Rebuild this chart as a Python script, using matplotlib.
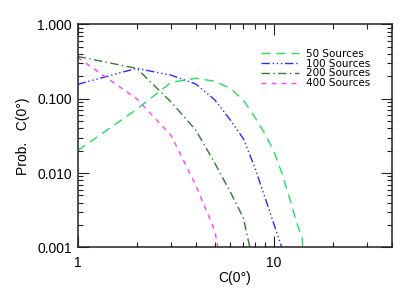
import matplotlib
matplotlib.use('Agg')
import matplotlib.pyplot as plt
from matplotlib.ticker import FixedLocator, FixedFormatter, LogLocator, NullFormatter

plt.rcParams['font.family'] = ['Liberation Sans', 'DejaVu Sans']

# separation C(0deg) and probability per number of sources
sep_50 = [1, 2, 3, 4, 5, 6, 7, 8, 9, 10, 11, 12, 13, 14, 15]
prob_50 = [0.020, 0.072, 0.166, 0.188, 0.172, 0.138, 0.096, 0.057, 0.034,
           0.020, 0.010, 0.0048, 0.0023, 0.0013, 0.00001]

sep_100 = [1, 2, 3, 4, 5, 6, 7, 8, 9, 10, 11, 12]
prob_100 = [0.156, 0.256, 0.207, 0.158, 0.097, 0.052, 0.029, 0.012, 0.0048,
            0.0021, 0.001, 0.00001]

sep_200 = [1, 2, 3, 4, 5, 6, 7, 8]
prob_200 = [0.37, 0.256, 0.09, 0.038, 0.0137, 0.0056, 0.0025, 0.0005]

sep_400 = [1, 2, 3, 4, 5, 6]
prob_400 = [0.36, 0.10, 0.032, 0.0069, 0.0017, 0.00014]

labels = ['50 Sources', '100 Sources', '200 Sources', '400 Sources']
y_ticks = [0.001, 0.01, 0.1, 1.0]
y_ticklabels = ['0.001', '0.010', '0.100', '1.000']
x_ticks = [1, 10]
x_ticklabels = ['1', '10']

STYLES = [
    ('#22e05a', (0, (6.5, 4.3))),
    ('#2b2bff', (0, (6, 2, 1, 2, 1, 2, 1, 2))),
    ('#2e7d2e', (0, (6, 2.5, 1, 2.5))),
    ('#ff40ff', (0, (3.6, 3.6))),
]

fig = plt.figure(figsize=(4.15, 2.97), dpi=100)
ax = fig.add_axes([0.187, 0.167, 0.757, 0.751])

series = [(sep_50, prob_50), (sep_100, prob_100), (sep_200, prob_200), (sep_400, prob_400)]
for (x, y), (color, ls), label in zip(series, STYLES, labels):
    ax.plot(x, y, color=color, linestyle=ls, linewidth=1.0, label=label)

ax.set_xscale('log')
ax.set_yscale('log')
ax.set_xlim(1, 40)
ax.set_ylim(0.001, 1.0)

ax.xaxis.set_major_locator(FixedLocator(x_ticks))
ax.xaxis.set_major_formatter(FixedFormatter(x_ticklabels))
ax.xaxis.set_minor_locator(LogLocator(base=10, subs=range(2, 10)))
ax.xaxis.set_minor_formatter(NullFormatter())
ax.yaxis.set_major_locator(FixedLocator(y_ticks))
ax.yaxis.set_major_formatter(FixedFormatter(y_ticklabels))
ax.yaxis.set_minor_locator(LogLocator(base=10, subs=range(2, 10)))
ax.yaxis.set_minor_formatter(NullFormatter())

ax.tick_params(which='both', direction='in', top=True, right=True, width=0.8, color='#222222')
ax.tick_params(which='major', length=8)
ax.tick_params(which='minor', length=3.5)
ax.tick_params(axis='x', which='major', pad=6, labelsize=10)
ax.tick_params(axis='y', which='major', pad=4, labelsize=10)
for sp in ax.spines.values():
    sp.set_linewidth(1.1)
    sp.set_color('#222222')

ax.set_xlabel('C(0\u00b0)', fontsize=10, labelpad=1)
ax.set_ylabel('Prob.   C(0\u00b0)', fontsize=10, labelpad=5)

leg = ax.legend(loc='upper left', bbox_to_anchor=(0.585, 0.89), frameon=False,
                prop={'family': 'DejaVu Sans', 'size': 7.5}, handlelength=3.6,
                handletextpad=0.65, labelspacing=-0.02, borderpad=0, borderaxespad=0)

fig.savefig('out.png', dpi=100)
